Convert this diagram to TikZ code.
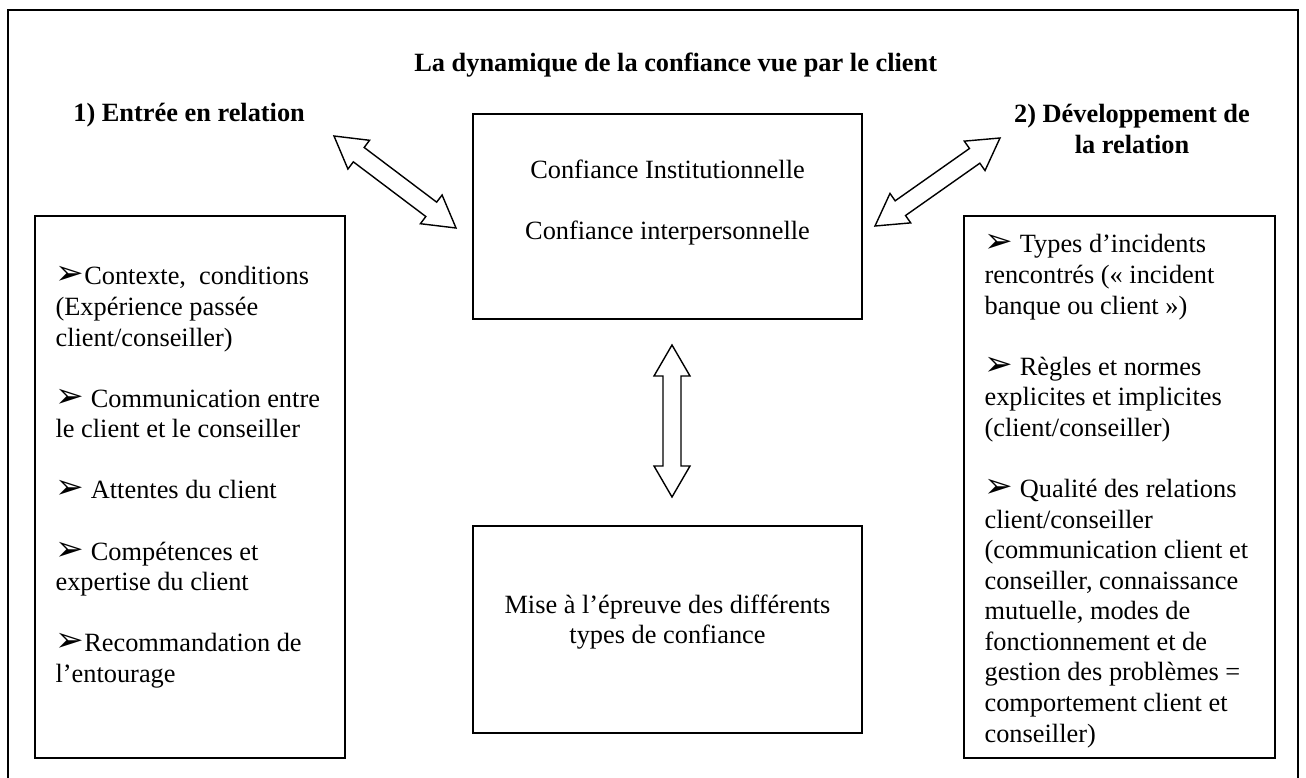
\documentclass[tikz,border=0pt]{standalone}
\usepackage{fontspec}
\setmainfont{Liberation Serif}
\newfontfamily\dingfont[Scale=1.3]{DejaVu Sans}
\usetikzlibrary{positioning,calc}

\newcommand{\puce}{{\dingfont ➢}}
\newcommand{\headlen}{0.62cm}
\newcommand{\headhalf}{0.36cm}
\newcommand{\shafthalf}{0.18cm}
% hollow double-headed block arrow between two named points
\newcommand{\dblarrow}[2]{%
  \draw[blockarrow] let \p1=(#1), \p2=(#2), \n1={atan2(\y2-\y1,\x2-\x1)} in
    (\p1) -- ($(\p1)!\headlen!(\p2)+({\n1+90}:\headhalf)$)
    -- ($(\p1)!\headlen!(\p2)+({\n1+90}:\shafthalf)$)
    -- ($(\p2)!\headlen!(\p1)+({\n1+90}:\shafthalf)$)
    -- ($(\p2)!\headlen!(\p1)+({\n1+90}:\headhalf)$)
    -- (\p2)
    -- ($(\p2)!\headlen!(\p1)+({\n1-90}:\headhalf)$)
    -- ($(\p2)!\headlen!(\p1)+({\n1-90}:\shafthalf)$)
    -- ($(\p1)!\headlen!(\p2)+({\n1-90}:\shafthalf)$)
    -- ($(\p1)!\headlen!(\p2)+({\n1-90}:\headhalf)$)
    -- cycle;}

\tikzset{
  box/.style={draw, line width=0.9pt, inner sep=0pt},
  body/.style={font=\fontsize{15}{17.4}\selectfont, inner sep=0pt, align=left},
  head/.style={font=\fontsize{15}{17.6}\selectfont\bfseries, inner sep=0pt},
  blockarrow/.style={draw, line width=0.8pt, line join=miter, fill=white}
}

\begin{document}
\begin{tikzpicture}[x=0.02cm, y=-0.02cm]
    \useasboundingbox (0,0) rectangle (1306,778);
    \clip (0,0) rectangle (1306,778);
    \draw[line width=1.1pt] (8,10) rectangle (1298,800);

    % titles
    \node[head, anchor=base west] (titre) at (414,71) {La dynamique de la confiance vue par le client};
    \node[head, anchor=base west] (phase1) at (73,121) {1) Entrée en relation};
    \node[head, align=center, anchor=north] (phase2) at (1132,104) {2) Développement de\\la relation};

    % boxes
    \node[box, minimum width=7.78cm, minimum height=4.1cm] (inst) at (667.5,216.5) {};
    \node[box, minimum width=7.78cm, minimum height=4.14cm] (epreuve) at (667.5,629.5) {};
    \node[box, minimum width=6.2cm, minimum height=10.84cm] (entree) at (190,487) {};
    \node[box, minimum width=6.22cm, minimum height=10.84cm] (devel) at (1119.5,487) {};

    \node[body, align=center, below=0.92cm of inst.north] (instTxt)
        {Confiance Institutionnelle\\[17.4pt]Confiance interpersonnelle};
    \node[body, align=center, below=1.38cm of epreuve.north] (epreuveTxt)
        {Mise à l’épreuve des différents\\types de confiance};
    \node[body, below right=1.02cm and 0.42cm of entree.north west] (entreeTxt)
        {\puce Contexte,~ conditions\\(Expérience passée\\client/conseiller)\\[17.4pt]
         \puce{} Communication entre\\le client et le conseiller\\[17.4pt]
         \puce{} Attentes du client\\[17.4pt]
         \puce{} Compétences et\\expertise du client\\[17.4pt]
         \puce Recommandation de\\l’entourage};
    \node[body, below right=0.38cm and 0.42cm of devel.north west] (develTxt)
        {\puce{} Types d’incidents\\rencontrés (« incident\\banque ou client »)\\[17.4pt]
         \puce{} Règles et normes\\explicites et implicites\\(client/conseiller)\\[17.4pt]
         \puce{} Qualité des relations\\client/conseiller\\(communication client et\\conseiller, connaissance\\mutuelle, modes de\\fonctionnement et de\\gestion des problèmes =\\comportement client et\\conseiller)};

    % arrows
    \coordinate (gHaut) at (334,136);
    \coordinate (gBas) at (456,228);
    \coordinate (dHaut) at (1000,138);
    \coordinate (dBas) at (875,226);
    \coordinate (vHaut) at (672,345);
    \coordinate (vBas) at (672,497);
    \dblarrow{gHaut}{gBas}
    \dblarrow{dHaut}{dBas}
    \dblarrow{vHaut}{vBas}
\end{tikzpicture}
\end{document}
